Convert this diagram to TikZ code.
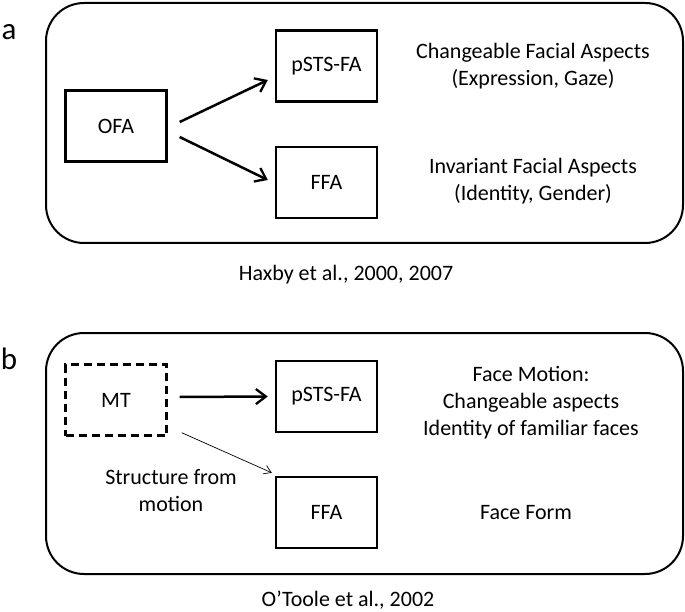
\documentclass[tikz,border=0pt]{standalone}
\usepackage{fontspec}
\setmainfont{Carlito}
\usetikzlibrary{arrows.meta}
\begin{document}
\begin{tikzpicture}[x=1pt,y=-1pt,
  panel/.style={draw, line width=2pt, rounded corners=38pt},
  regbox/.style={draw, line width=2.4pt, minimum width=101pt, minimum height=71pt, inner sep=0pt, font=\fontsize{22}{27}\selectfont},
  dashbox/.style={regbox, dash pattern=on 8pt off 5pt},
  txt/.style={align=center, inner sep=0pt, font=\fontsize{22}{27}\selectfont},
  lbl/.style={inner sep=0pt, font=\fontsize{31}{33}\selectfont},
  thick arrow/.style={-{Straight Barb[length=10pt,width=15pt,line width=2.3pt]}, line width=2.5pt},
  thin arrow/.style={-{Straight Barb[length=7pt,width=9pt]}, line width=0.7pt}]
\useasboundingbox (0,0) rectangle (685,612);
% panel a
\draw[panel] (46,3) rectangle (683,243);
\node[lbl] (la) at (9,32) {a};
\node[regbox] (OFA) at (116,126) {OFA};
\node[regbox] (pSTSa) at (326.5,66) {pSTS-FA};
\node[regbox] (FFAa) at (326.5,182.5) {FFA};
\draw[thick arrow] ([xshift=12pt,yshift=4pt]OFA.east) -- ([xshift=-7pt,yshift=-14pt]pSTSa.west);
\draw[thick arrow] ([xshift=12pt,yshift=-11pt]OFA.east) -- ([xshift=-7pt,yshift=2.5pt]FFAa.west);
\node[txt] (ta1) at (533,66.5) {Changeable Facial Aspects\\(Expression, Gaze)};
\node[txt] (ta2) at (533,181.5) {Invariant Facial Aspects\\(Identity, Gender)};
\node[txt] (capa) at (346,275) {Haxby et al., 2000, 2007};
% panel b
\draw[panel] (46,333) rectangle (683,574);
\node[lbl] (lb) at (9,359) {b};
\node[dashbox] (MT) at (116,400) {MT};
\node[regbox] (pSTSb) at (326.5,396.5) {pSTS-FA};
\node[regbox] (FFAb) at (326.5,512.5) {FFA};
\draw[thick arrow] ([xshift=12pt,yshift=3pt]MT.east) -- ([xshift=-7pt]pSTSb.west);
\draw[thin arrow] ([xshift=14pt,yshift=4pt]MT.south east) -- ([xshift=-3pt,yshift=3pt]FFAb.north west);
\node[txt] (sfm) at (171,491) {Structure from\\motion};
\node[txt] (tb1) at (531,403) {Face Motion:\\Changeable aspects\\Identity of familiar faces};
\node[txt] (tb2) at (526,513) {Face Form};
\node[txt] (capb) at (348,600) {O’Toole et al., 2002};
\end{tikzpicture}
\end{document}
